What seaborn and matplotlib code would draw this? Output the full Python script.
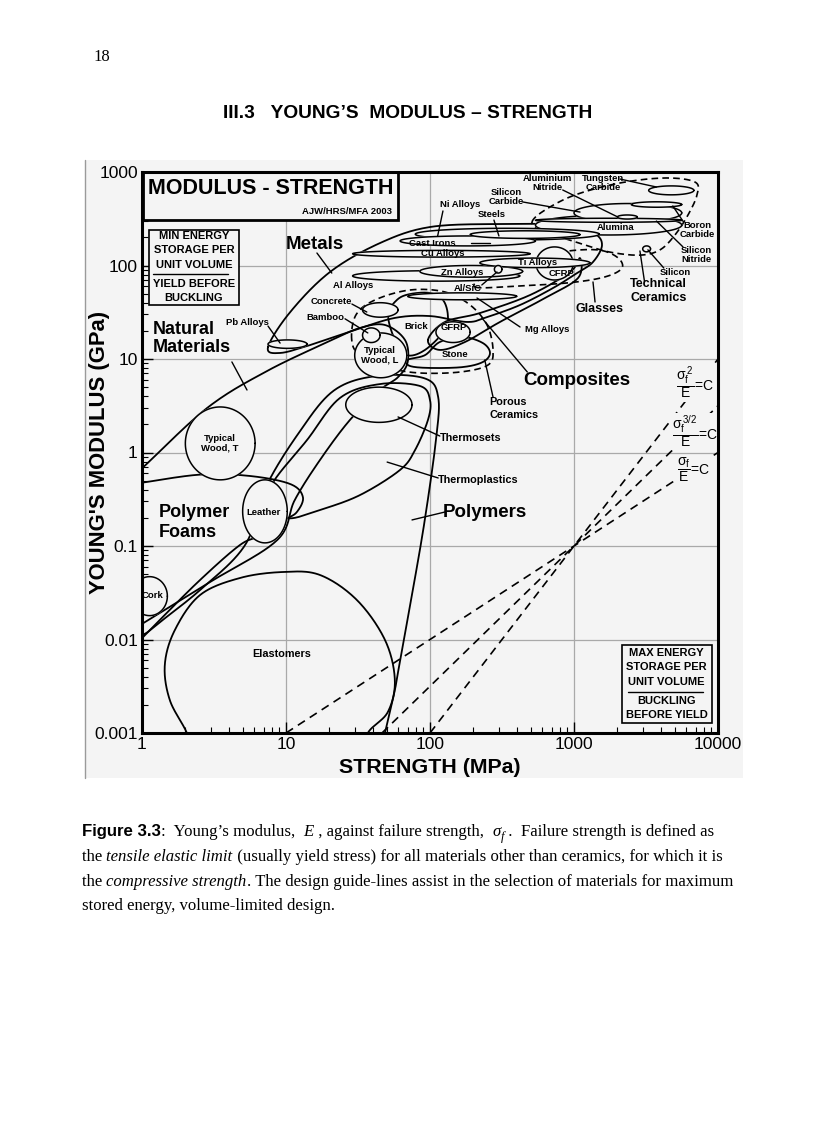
import numpy as np
import matplotlib
matplotlib.use("Agg")
import matplotlib.pyplot as plt
import seaborn as sns
from matplotlib.patches import Rectangle
from matplotlib.lines import Line2D

sns.set_theme(style="white")
plt.rcParams["font.family"] = ["Liberation Sans", "DejaVu Sans"]
plt.rcParams["mathtext.fontset"] = "custom"
plt.rcParams["mathtext.rm"] = "Liberation Sans"
plt.rcParams["mathtext.it"] = "Liberation Sans"
plt.rcParams["mathtext.bf"] = "Liberation Sans:bold"
for key in ["text.color", "axes.labelcolor", "xtick.color", "ytick.color"]:
    plt.rcParams[key] = "black"

BG = "#f4f4f4"

# =============================================================================
# DATA  (strength in MPa, modulus in GPa)
# =============================================================================
XTICKS = [1, 10, 100, 1000, 10000]
XTICK_LABELS = ["1", "10", "100", "1000", "10000"]
YTICKS = [0.001, 0.01, 0.1, 1, 10, 100, 1000]
YTICK_LABELS = ["0.001", "0.01", "0.1", "1", "10", "100", "1000"]

# family envelopes (outline points)
METALS_S = [7.5, 10.7, 20.2, 45, 100, 306, 800, 1355, 1565, 1355, 1050, 715, 422, 249, 181, 100, 57, 30, 14.7, 9.1]
METALS_E = [13.4, 31.8, 85.2, 174, 258, 278, 271, 223, 166, 109, 83, 57.4, 37.8, 28.1, 24.9, 28.8, 27.5, 20.4, 14.1, 11.6]

NATURAL_S = [0.76, 0.97, 2.83, 7.4, 20.2, 32.7, 48.7, 67, 70, 60, 45, 27.8, 17.2, 11.5, 8.7, 2.97, 0.97, 0.76]
NATURAL_E = [0.508, 0.65, 2.99, 7.45, 15.6, 21.5, 23.1, 16, 9.3, 6.4, 4.66, 2.23, 0.83, 0.31, 0.116, 0.0412, 0.0143, 0.0115]

FOAMS_S = [0.76, 0.97, 2.53, 5.62, 10.7, 13.1, 11.9, 9.8, 6.8, 4.79, 2.53, 1.33, 0.97, 0.76]
FOAMS_E = [0.449, 0.472, 0.58, 0.561, 0.46, 0.334, 0.231, 0.19, 0.131, 0.1025, 0.0433, 0.0162, 0.0099, 0.0074]

POLYMERS_S = [0.76, 1.14, 2.53, 5.2, 7.2, 12.2, 21.5, 43, 92, 114, 110, 92, 76, 62, 57, 48.7, 43.5, 0.76]
POLYMERS_E = [0.0068, 0.0126, 0.0338, 0.1025, 0.42, 1.6, 4.6, 6.6, 6.2, 3.9, 1.36, 0.19, 0.0338, 0.006, 0.00288, 0.001, 0.0004, 0.0004]

THERMOPLASTICS_S = [8.1, 14, 23.7, 45, 85.3, 100, 96.8, 78.7, 61.9, 32.7, 17.2, 10.2, 8.5]
THERMOPLASTICS_E = [0.472, 1.36, 3.83, 5.4, 5.14, 3.64, 2.23, 1.06, 0.65, 0.351, 0.243, 0.199, 0.31]

ELASTOMERS_S = [2.05, 1.56, 1.44, 1.69, 2.53, 4.79, 9.5, 17.2, 31.1, 48.7, 57, 51, 37, 32.7, 2.33]
ELASTOMERS_E = [0.001, 0.00225, 0.00534, 0.0126, 0.0299, 0.0455, 0.0527, 0.049, 0.0264, 0.00988, 0.00369, 0.00168, 0.001, 0.00051, 0.00051]

COMPOSITES_S = [96.8, 127, 222, 495, 938, 1100, 1067, 629, 306, 175, 117]
COMPOSITES_E = [16, 24.9, 31, 48.3, 85.2, 120, 73.5, 44.9, 24.9, 15.2, 12.5]

BRICK_S = [51.2, 58.9, 72.6, 100, 123, 133, 127, 92.3, 69.2, 57.1]
BRICK_E = [29.6, 42.8, 49.5, 50.8, 42.8, 29.6, 20.4, 12.5, 11.0, 16]

STONE_S = [69.2, 92.3, 117, 169, 233, 261, 233, 169, 100, 72.6]
STONE_E = [9.76, 11.0, 15.2, 17.2, 14.8, 11.6, 9.29, 8.2, 8.02, 8.42]

# dashed envelopes
TECH_CERAMICS_S = [511, 629, 1016, 2085, 4283, 6920, 7145, 6190, 5024, 3956, 2870, 1778, 1191, 800, 580]
TECH_CERAMICS_E = [292, 392, 568, 763, 863, 781, 568, 347, 212, 147, 129, 139, 166, 202, 240]

GLASSES_S = [205, 422, 938, 1641, 2154, 1990, 1445, 800, 422, 261]
GLASSES_E = [58.9, 60.6, 65.5, 75.5, 94, 123, 147, 139, 109, 83]

POROUS_S = [28.6, 30.6, 41.5, 72.6, 127, 190, 249, 274, 253, 162, 85.3, 52.7, 32.7]
POROUS_E = [16, 29.6, 42.8, 54.7, 52.1, 37.8, 23.1, 12.5, 8.63, 7.26, 7.08, 8.02, 11.0]

# single-material bubbles: strength range and modulus range
BUBBLE_NAMES = ["Tungsten Carbide", "Boron Carbide", "Alumina", "Silicon Carbide",
                "Silicon Nitride", "Aluminium Nitride", "Silicon", "Ni Alloys",
                "Steels", "Cast Irons", "Cu Alloys", "Ti Alloys", "Zn Alloys",
                "Al Alloys", "Mg Alloys", "Al/SiC", "CFRP", "GFRP", "Concrete",
                "Bamboo", "Typical Wood, L", "Pb Alloys", "Cork", "Leather",
                "Typical Wood, T", "Thermosets"]
BUBBLE_S_LO = [3300, 2500, 540, 1000, 540, 2000, 3000, 79, 190, 62, 29, 222, 85,
               29, 70, 280, 545, 110, 34, 34, 30, 7.5, 0.85, 5, 2, 26]
BUBBLE_S_HI = [6800, 5600, 5600, 5600, 5600, 2750, 3400, 1500, 1100, 540, 495, 1290, 440,
               420, 400, 316, 985, 190, 60, 45, 69, 14, 1.5, 10.2, 6.1, 75]
BUBBLE_E_LO = [570, 420, 212, 290, 290, 314, 140, 187, 195, 162, 123, 95, 75,
               68, 43, 83, 70, 15, 28, 15, 6.3, 13, 0.018, 0.108, 0.51, 2.1]
BUBBLE_E_HI = [710, 480, 345, 460, 320, 347, 162, 250, 235, 207, 145, 120, 100,
               88, 51, 100, 158, 25, 40, 21.5, 19, 16, 0.047, 0.51, 3.07, 5.0]

# design guide lines (end points)
GUIDE_SQ_S, GUIDE_SQ_E = [100, 10000], [0.001, 10]
GUIDE_32_S, GUIDE_32_E = [46.4, 10000], [0.001, 3.16]
GUIDE_1_S, GUIDE_1_E = [10, 10000], [0.001, 1]

# labels: text, strength, modulus, size
BIG_LABELS = [("Metals", 15.9, 166), ("Composites", 1050, 5.82), ("Polymers", 241, 0.2255)]
LEFT_LABELS = [("Natural", 1.19, 20.9, 13), ("Materials", 1.19, 13.4, 13),
               ("Polymer", 1.31, 0.2255, 13), ("Foams", 1.31, 0.138, 13),
               ("Technical", 2449, 63, 9), ("Ceramics", 2449, 44.9, 9),
               ("Glasses", 1032, 34.3, 9),
               ("Porous", 257, 3.47, 7.8), ("Ceramics", 257, 2.52, 7.8),
               ("Thermosets", 117, 1.43, 7.8), ("Thermoplastics", 114, 0.508, 7.8)]
SMALL_LABELS = [("Elastomers", 9.4, 0.0070, 7.8), ("Cork", 1.19, 0.0292, 6.8),
                ("Leather", 7.03, 0.2255, 6.8), ("Typical\nWood, T", 3.48, 1.26, 6.8),
                ("Typical\nWood, L", 45, 11.0, 6.8), ("Bamboo", 18.9, 27.5, 6.8),
                ("Concrete", 20.5, 41.7, 6.8), ("Brick", 80, 22.5, 6.8),
                ("GFRP", 147, 21.5, 6.8), ("Stone", 150, 11.3, 6.8),
                ("Pb Alloys", 5.36, 24.3, 6.8), ("Al Alloys", 29.2, 60.4, 6.8),
                ("Cast Irons", 103, 174, 6.8), ("Cu Alloys", 123, 133, 6.8),
                ("Ni Alloys", 162, 444, 6.8), ("Steels", 270, 347, 6.8),
                ("Silicon\nCarbide", 337, 535, 6.8), ("Aluminium\nNitride", 649, 760, 6.8),
                ("Tungsten\nCarbide", 1589, 760, 6.8), ("Alumina", 1959, 252, 6.8),
                ("Boron\nCarbide", 7145, 237, 6.8), ("Silicon\nNitride", 7030, 130, 6.8),
                ("Silicon", 5024, 85.2, 6.8), ("Zn Alloys", 167, 85.2, 6.8),
                ("Ti Alloys", 562, 109, 6.8), ("CFRP", 826, 83, 6.8),
                ("Al/SiC", 183, 56.1, 6.8), ("Mg Alloys", 649, 20.9, 6.8)]

# guide-line labels: text, strength, modulus
GUIDE_LABELS = [(r"$\dfrac{\sigma_f^{\,2}}{E}$=C", 6900, 5.54),
                (r"$\dfrac{\sigma_f^{\,3/2}}{E}$=C", 6900, 1.66),
                (r"$\dfrac{\sigma_f}{E}$=C", 6800, 0.65)]

# leader lines: (s0, e0, s1, e1)
LEADERS = [(16.4, 136, 20.8, 83), (4.21, 9.3, 5.36, 4.66), (7.5, 22.5, 9.1, 14.8),
           (28.7, 38.7, 36.4, 31.8), (25.7, 26.9, 37, 19), (123, 383, 113, 207),
           (278, 306, 301, 207), (193, 174, 261, 174), (441, 478, 1101, 373),
           (835, 642, 2016, 330), (2085, 841, 3736, 691), (5763, 292, 4854, 433),
           (5714, 158, 3736, 299), (4204, 94, 3260, 147), (3090, 66.7, 2870, 143),
           (1400, 40.7, 1355, 66.7), (229, 61.9, 292, 85.2), (422, 22, 212, 44.9),
           (474, 7.26, 229, 27.5), (274, 3.92, 240, 9.76), (117, 1.5, 60, 2.4),
           (114, 0.534, 50.4, 0.79), (127, 0.231, 75, 0.19)]


def smooth_closed(xs, ys, n=24):
    P = np.column_stack([np.log10(xs), np.log10(ys)])
    m = len(P)
    t = np.linspace(0, 1, n, endpoint=False)[:, None]
    segs = []
    for i in range(m):
        p0, p1, p2, p3 = P[(i - 1) % m], P[i], P[(i + 1) % m], P[(i + 2) % m]
        segs.append(0.5 * (2 * p1 + (-p0 + p2) * t + (2 * p0 - 5 * p1 + 4 * p2 - p3) * t ** 2
                           + (-p0 + 3 * p1 - 3 * p2 + p3) * t ** 3))
    segs.append(P[:1])
    pts = np.vstack(segs)
    return 10 ** pts[:, 0], 10 ** pts[:, 1]


def ellipse(s_lo, s_hi, e_lo, e_hi, n=120):
    cx, rx = (np.log10(s_lo) + np.log10(s_hi)) / 2, (np.log10(s_hi) - np.log10(s_lo)) / 2
    cy, ry = (np.log10(e_lo) + np.log10(e_hi)) / 2, (np.log10(e_hi) - np.log10(e_lo)) / 2
    t = np.linspace(0, 2 * np.pi, n)
    return 10 ** (cx + rx * np.cos(t)), 10 ** (cy + ry * np.sin(t))


# =============================================================================
# FIGURE
# =============================================================================
fig = plt.figure(figsize=(8.16, 11.23), dpi=100)
fig.patch.set_facecolor("white")
fig.patches.append(Rectangle((85 / 816, 1 - 778 / 1123), (743 - 85) / 816, (778 - 160) / 1123,
                             transform=fig.transFigure, facecolor=BG, edgecolor="none", zorder=-5))
fig.add_artist(Line2D([85 / 816, 85 / 816], [1 - 778 / 1123, 1 - 160 / 1123],
                      color="#9a9a9a", lw=1, zorder=-4))

ax = fig.add_axes([142 / 816, 1 - 733 / 1123, 576 / 816, 561 / 1123])
ax.set_zorder(1)
ax.set_facecolor(BG)
ax.set_xscale("log")
ax.set_yscale("log")
ax.set_xlim(1, 10000)
ax.set_ylim(0.001, 1000)

# family envelopes
for s, e in [(METALS_S, METALS_E), (NATURAL_S, NATURAL_E), (FOAMS_S, FOAMS_E),
             (POLYMERS_S, POLYMERS_E), (THERMOPLASTICS_S, THERMOPLASTICS_E),
             (ELASTOMERS_S, ELASTOMERS_E), (COMPOSITES_S, COMPOSITES_E),
             (BRICK_S, BRICK_E), (STONE_S, STONE_E)]:
    xs, ys = smooth_closed(s, e)
    sns.lineplot(x=xs, y=ys, sort=False, estimator=None, ax=ax,
                 color="black", lw=1.3, zorder=2)

for s, e in [(TECH_CERAMICS_S, TECH_CERAMICS_E), (GLASSES_S, GLASSES_E), (POROUS_S, POROUS_E)]:
    xs, ys = smooth_closed(s, e)
    sns.lineplot(x=xs, y=ys, sort=False, estimator=None, ax=ax,
                 color="black", lw=1.2, linestyle=(0, (4, 2.5)), zorder=2)

# design guide lines
for s, e in [(GUIDE_SQ_S, GUIDE_SQ_E), (GUIDE_32_S, GUIDE_32_E), (GUIDE_1_S, GUIDE_1_E)]:
    sns.lineplot(x=s, y=e, ax=ax, color="black", lw=1.2,
                 linestyle=(0, (5, 3.5)), zorder=2)

# bubbles, biggest first so the small ones sit on top
areas = [np.log10(h / l) * np.log10(eh / el) for l, h, el, eh in
         zip(BUBBLE_S_LO, BUBBLE_S_HI, BUBBLE_E_LO, BUBBLE_E_HI)]
order = np.argsort(areas)[::-1]
for k, i in enumerate(order):
    xs, ys = ellipse(BUBBLE_S_LO[i], BUBBLE_S_HI[i], BUBBLE_E_LO[i], BUBBLE_E_HI[i])
    ax.fill(xs, ys, color=BG, zorder=3 + k * 0.01)
    ax.plot(xs, ys, color="black", lw=1.1, zorder=3 + k * 0.01 + 0.005)

# leader lines
for s0, e0, s1, e1 in LEADERS:
    ax.plot([s0, s1], [e0, e1], color="black", lw=1.0, zorder=4)

# labels
for txt, s, e in BIG_LABELS:
    ax.text(s, e, txt, ha="center", va="center", fontsize=13.5, fontweight="bold", zorder=6)
for txt, s, e, fs in LEFT_LABELS:
    ax.text(s, e, txt, ha="left", va="center", fontsize=fs, fontweight="bold", zorder=6)
for txt, s, e, fs in SMALL_LABELS:
    ax.text(s, e, txt, ha="center", va="center", fontsize=fs, fontweight="bold",
            linespacing=1.0, zorder=6)

gbox = dict(facecolor=BG, edgecolor="none", pad=0.3)
for txt, s, e in GUIDE_LABELS:
    ax.text(s, e, txt, ha="center", va="center", fontsize=10, bbox=gbox, zorder=6)

# title box
ax.add_patch(Rectangle((0.0017, 0.914), 0.442, 0.086, transform=ax.transAxes,
                       facecolor=BG, edgecolor="black", lw=2.0, zorder=7))
ax.text(0.0104, 0.970, "MODULUS - STRENGTH", transform=ax.transAxes, ha="left",
        va="center", fontsize=15.5, fontweight="bold", zorder=8)
ax.text(0.434, 0.929, "AJW/HRS/MFA 2003", transform=ax.transAxes, ha="right",
        va="center", fontsize=6.8, fontweight="bold", zorder=8)

# min energy box
ax.add_patch(Rectangle((0.0122, 0.763), 0.156, 0.134, transform=ax.transAxes,
                       facecolor=BG, edgecolor="black", lw=1.2, zorder=7))
for txt, fy in [("MIN ENERGY", 0.886), ("STORAGE PER", 0.861), ("UNIT VOLUME", 0.834),
                ("YIELD BEFORE", 0.800), ("BUCKLING", 0.775)]:
    ax.text(0.0903, fy, txt, transform=ax.transAxes, ha="center", va="center",
            fontsize=8, fontweight="bold", zorder=8)
ax.plot([0.019, 0.149], [0.818, 0.818], transform=ax.transAxes, color="black", lw=1.0, zorder=8)

# max energy box
ax.add_patch(Rectangle((0.833, 0.0178), 0.157, 0.139, transform=ax.transAxes,
                       facecolor=BG, edgecolor="black", lw=1.2, zorder=7))
for txt, fy in [("MAX ENERGY", 0.1426), ("STORAGE PER", 0.1176), ("UNIT VOLUME", 0.0909),
                ("BUCKLING", 0.057), ("BEFORE YIELD", 0.0321)]:
    ax.text(0.911, fy, txt, transform=ax.transAxes, ha="center", va="center",
            fontsize=8, fontweight="bold", zorder=8)
ax.plot([0.844, 0.974], [0.0731, 0.0731], transform=ax.transAxes, color="black", lw=1.0, zorder=8)

# axes styling
ax.set_xticks(XTICKS)
ax.set_xticklabels(XTICK_LABELS)
ax.set_yticks(YTICKS)
ax.set_yticklabels(YTICK_LABELS)
ax.xaxis.set_minor_locator(matplotlib.ticker.LogLocator(base=10, subs=np.arange(2, 10)))
ax.yaxis.set_minor_locator(matplotlib.ticker.LogLocator(base=10, subs=np.arange(2, 10)))
ax.xaxis.set_minor_formatter(matplotlib.ticker.NullFormatter())
ax.yaxis.set_minor_formatter(matplotlib.ticker.NullFormatter())
ax.tick_params(which="major", direction="in", length=8, width=1.0, labelsize=12.5,
               left=True, bottom=True, top=False, right=False, pad=3, colors="black")
ax.tick_params(which="minor", direction="in", length=4.5, width=0.8,
               left=True, bottom=True, top=False, right=False)
ax.grid(True, which="major", color="#a9a9a9", lw=0.9)
ax.set_axisbelow(True)
for sp in ax.spines.values():
    sp.set_color("black")
    sp.set_linewidth(2.2)
    sp.set_zorder(10)

ax.set_xlabel("STRENGTH (MPa)", fontsize=15.4, fontweight="bold")
ax.xaxis.set_label_coords(0.5, -0.062)
ax.xaxis.label.set_va("center")
ax.set_ylabel("YOUNG'S MODULUS (GPa)", fontsize=15.8, fontweight="bold")
ax.yaxis.set_label_coords(-0.073, 0.501)
ax.yaxis.label.set_va("center")

# page text
SERIF = ["Liberation Serif", "DejaVu Serif"]
fig.text(93 / 816, 1 - 57 / 1123, "18", ha="left", va="center", fontsize=12, family=SERIF)
fig.text(0.5, 1 - 113 / 1123, "III.3   YOUNG\u2019S  MODULUS \u2013 STRENGTH", ha="center",
         va="center", fontsize=13.75, fontweight="bold")

CAPTION = [
    [("Figure 3.3", "sans"), (":  Young\u2019s modulus,  ", "serif"), ("E", "serif-it"),
     (" , against failure strength,  ", "serif"), ("\u03c3", "serif-it"), ("f", "serif-sub"),
     (" .  Failure strength is defined as", "serif")],
    [("the ", "serif"), ("tensile elastic limit", "serif-it"),
     (" (usually yield stress) for all materials other than ceramics, for which it is", "serif")],
    [("the ", "serif"), ("compressive strength", "serif-it"),
     (". The design guide-lines assist in the selection of materials for maximum", "serif")],
    [("stored energy, volume-limited design.", "serif")],
]
CAP_Y = [1 - 836 / 1123, 1 - 861 / 1123, 1 - 886 / 1123, 1 - 910 / 1123]
CAP_FS = 12.1
for line, yb in zip(CAPTION, CAP_Y):
    prev = None
    for txt, kind in line:
        kw = dict(fontsize=CAP_FS, va="baseline", ha="left", family=SERIF)
        dy = 0
        if kind == "sans":
            kw["family"] = ["Liberation Sans", "DejaVu Sans"]
            kw["fontweight"] = "bold"
        elif kind == "serif-it":
            kw["style"] = "italic"
        elif kind == "serif-sub":
            kw["style"] = "italic"
            kw["fontsize"] = CAP_FS * 0.75
            dy = -3
        if prev is None:
            prev = fig.text(82 / 816, yb, txt, **kw)
        else:
            prev = ax.annotate(txt, xy=(1, yb), xycoords=(prev, "figure fraction"),
                               xytext=(0, dy), textcoords="offset points",
                               annotation_clip=False, **kw)

fig.savefig("out.png", dpi=100, facecolor="white")
